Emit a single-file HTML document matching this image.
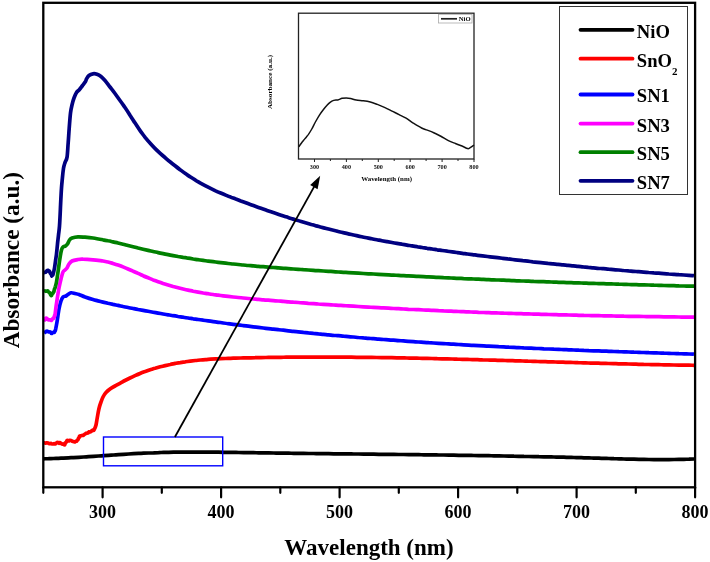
<!DOCTYPE html>
<html><head><meta charset="utf-8"><style>
html,body{margin:0;padding:0;background:#fff;width:710px;height:562px;overflow:hidden}
svg{display:block;will-change:transform}
</style></head><body>
<svg width="710" height="562" viewBox="0 0 710 562">
<rect width="710" height="562" fill="#fff"/>
<path d="M43.5,458.8 C44.3,458.8 46.8,458.7 48.5,458.7 C50.2,458.6 51.8,458.6 53.5,458.5 C55.2,458.4 56.8,458.4 58.5,458.3 C60.2,458.2 61.8,458.2 63.5,458.1 C65.2,458.0 66.9,457.9 68.5,457.8 C70.2,457.7 71.9,457.7 73.5,457.6 C75.2,457.5 76.9,457.4 78.5,457.3 C80.2,457.2 81.9,457.1 83.5,457.0 C85.2,456.9 86.9,456.8 88.5,456.6 C90.2,456.5 91.9,456.4 93.5,456.3 C95.2,456.2 96.9,456.1 98.5,456.0 C100.2,455.9 101.9,455.8 103.5,455.6 C105.2,455.5 106.9,455.4 108.5,455.3 C110.2,455.2 111.9,455.1 113.6,455.0 C115.2,454.9 116.9,454.7 118.6,454.6 C120.2,454.5 121.9,454.4 123.6,454.3 C125.2,454.2 126.9,454.1 128.6,454.0 C130.2,453.9 131.9,453.8 133.6,453.7 C135.2,453.6 136.9,453.5 138.6,453.4 C140.2,453.3 141.9,453.3 143.6,453.2 C145.2,453.1 146.9,453.0 148.6,453.0 C150.2,452.9 151.9,452.8 153.6,452.8 C155.3,452.7 156.9,452.6 158.6,452.6 C160.3,452.5 161.9,452.5 163.6,452.4 C165.3,452.4 166.9,452.4 168.6,452.3 C170.3,452.3 171.9,452.3 173.6,452.2 C175.3,452.2 176.9,452.2 178.6,452.2 C180.3,452.1 181.9,452.1 183.6,452.1 C185.3,452.1 186.9,452.1 188.6,452.1 C190.3,452.1 191.9,452.1 193.6,452.1 C195.3,452.1 197.0,452.1 198.6,452.1 C200.3,452.1 202.0,452.1 203.6,452.1 C205.3,452.1 207.0,452.1 208.6,452.1 C210.3,452.1 212.0,452.1 213.6,452.2 C215.3,452.2 217.0,452.2 218.6,452.2 C220.3,452.2 222.0,452.2 223.6,452.3 C225.3,452.3 227.0,452.3 228.6,452.3 C230.3,452.4 232.0,452.4 233.6,452.4 C235.3,452.4 237.0,452.5 238.7,452.5 C240.3,452.5 242.0,452.5 243.7,452.6 C245.3,452.6 247.0,452.6 248.7,452.6 C250.3,452.7 252.0,452.7 253.7,452.7 C255.3,452.7 257.0,452.8 258.7,452.8 C260.3,452.8 262.0,452.8 263.7,452.9 C265.3,452.9 267.0,452.9 268.7,452.9 C270.3,453.0 272.0,453.0 273.7,453.0 C275.3,453.0 277.0,453.1 278.7,453.1 C280.3,453.1 282.0,453.1 283.7,453.1 C285.4,453.2 287.0,453.2 288.7,453.2 C290.4,453.2 292.0,453.3 293.7,453.3 C295.4,453.3 297.0,453.3 298.7,453.3 C300.4,453.4 302.0,453.4 303.7,453.4 C305.4,453.4 307.0,453.4 308.7,453.5 C310.4,453.5 312.0,453.5 313.7,453.5 C315.4,453.5 317.0,453.6 318.7,453.6 C320.4,453.6 322.0,453.6 323.7,453.6 C325.4,453.7 327.1,453.7 328.7,453.7 C330.4,453.7 332.1,453.7 333.7,453.8 C335.4,453.8 337.1,453.8 338.7,453.8 C340.4,453.8 342.1,453.8 343.7,453.9 C345.4,453.9 347.1,453.9 348.7,453.9 C350.4,453.9 352.1,454.0 353.7,454.0 C355.4,454.0 357.1,454.0 358.7,454.0 C360.4,454.1 362.1,454.1 363.7,454.1 C365.4,454.1 367.1,454.1 368.8,454.1 C370.4,454.2 372.1,454.2 373.8,454.2 C375.4,454.2 377.1,454.2 378.8,454.3 C380.4,454.3 382.1,454.3 383.8,454.3 C385.4,454.3 387.1,454.4 388.8,454.4 C390.4,454.4 392.1,454.4 393.8,454.4 C395.4,454.5 397.1,454.5 398.8,454.5 C400.4,454.5 402.1,454.5 403.8,454.5 C405.4,454.6 407.1,454.6 408.8,454.6 C410.4,454.6 412.1,454.6 413.8,454.7 C415.5,454.7 417.1,454.7 418.8,454.7 C420.5,454.7 422.1,454.8 423.8,454.8 C425.5,454.8 427.1,454.8 428.8,454.9 C430.5,454.9 432.1,454.9 433.8,454.9 C435.5,454.9 437.1,455.0 438.8,455.0 C440.5,455.0 442.1,455.0 443.8,455.0 C445.5,455.1 447.1,455.1 448.8,455.1 C450.5,455.1 452.1,455.2 453.8,455.2 C455.5,455.2 457.2,455.2 458.8,455.3 C460.5,455.3 462.2,455.3 463.8,455.3 C465.5,455.4 467.2,455.4 468.8,455.4 C470.5,455.4 472.2,455.5 473.8,455.5 C475.5,455.5 477.2,455.5 478.8,455.6 C480.5,455.6 482.2,455.6 483.8,455.6 C485.5,455.7 487.2,455.7 488.8,455.7 C490.5,455.7 492.2,455.8 493.8,455.8 C495.5,455.8 497.2,455.9 498.9,455.9 C500.5,455.9 502.2,455.9 503.9,456.0 C505.5,456.0 507.2,456.0 508.9,456.1 C510.5,456.1 512.2,456.1 513.9,456.2 C515.5,456.2 517.2,456.2 518.9,456.3 C520.5,456.3 522.2,456.3 523.9,456.4 C525.5,456.4 527.2,456.4 528.9,456.5 C530.5,456.5 532.2,456.5 533.9,456.6 C535.5,456.6 537.2,456.6 538.9,456.7 C540.5,456.7 542.2,456.7 543.9,456.8 C545.6,456.8 547.2,456.8 548.9,456.9 C550.6,456.9 552.2,457.0 553.9,457.0 C555.6,457.0 557.2,457.1 558.9,457.1 C560.6,457.2 562.2,457.2 563.9,457.2 C565.6,457.3 567.2,457.3 568.9,457.4 C570.6,457.4 572.2,457.5 573.9,457.5 C575.6,457.5 577.2,457.6 578.9,457.6 C580.6,457.7 582.2,457.7 583.9,457.8 C585.6,457.8 587.3,457.9 588.9,457.9 C590.6,458.0 592.3,458.0 593.9,458.1 C595.6,458.1 597.3,458.2 598.9,458.2 C600.6,458.3 602.3,458.3 603.9,458.4 C605.6,458.4 607.3,458.5 608.9,458.5 C610.6,458.6 612.3,458.6 613.9,458.7 C615.6,458.7 617.3,458.8 618.9,458.8 C620.6,458.9 622.3,458.9 623.9,459.0 C625.6,459.0 627.3,459.1 629.0,459.1 C630.6,459.1 632.3,459.2 634.0,459.2 C635.6,459.3 637.3,459.3 639.0,459.3 C640.6,459.4 642.3,459.4 644.0,459.4 C645.6,459.5 647.3,459.5 649.0,459.5 C650.6,459.5 652.3,459.5 654.0,459.6 C655.6,459.6 657.3,459.6 659.0,459.6 C660.6,459.6 662.3,459.6 664.0,459.6 C665.6,459.6 667.3,459.6 669.0,459.6 C670.6,459.6 672.3,459.6 674.0,459.5 C675.7,459.5 677.3,459.5 679.0,459.4 C680.7,459.4 682.3,459.4 684.0,459.3 C685.7,459.3 687.3,459.2 689.0,459.2 C690.7,459.1 693.2,459.0 694.0,459.0" fill="none" stroke="#000" stroke-width="3.7" stroke-linejoin="round" stroke-linecap="butt"/>
<path d="M43.5,443.0 C43.6,443.0 44.1,442.8 44.4,442.8 C44.7,442.8 45.0,443.1 45.3,443.1 C45.6,443.1 45.9,443.0 46.2,442.9 C46.5,442.9 46.8,442.8 47.1,442.8 C47.4,442.8 47.7,442.9 48.0,443.0 C48.3,443.1 48.7,443.4 49.0,443.6 C49.3,443.7 49.7,443.7 50.0,443.6 C50.3,443.6 50.7,443.3 51.0,443.3 C51.3,443.3 51.7,443.8 52.0,443.9 C52.3,444.0 52.7,444.0 53.0,444.0 C53.3,444.0 53.7,443.8 54.0,443.7 C54.3,443.7 54.7,443.9 55.0,443.9 C55.3,443.8 55.7,443.6 56.0,443.4 C56.3,443.2 56.7,442.7 57.0,442.5 C57.3,442.4 57.7,442.4 58.0,442.5 C58.3,442.6 58.7,443.4 59.0,443.4 C59.3,443.4 59.7,442.7 60.0,442.6 C60.3,442.6 60.7,443.1 61.0,443.3 C61.3,443.5 61.7,443.9 62.0,444.0 C62.3,444.1 62.7,444.0 63.0,444.0 C63.3,444.0 63.5,443.9 63.8,444.1 C64.0,444.2 64.3,445.0 64.5,445.0 C64.7,445.0 64.8,444.5 65.0,444.1 C65.2,443.7 65.3,442.9 65.5,442.6 C65.7,442.4 65.8,442.7 66.0,442.5 C66.2,442.3 66.3,442.1 66.5,441.7 C66.7,441.4 66.8,440.7 67.0,440.5 C67.2,440.3 67.7,440.5 68.0,440.6 C68.3,440.7 68.7,441.0 69.0,441.0 C69.3,440.9 69.7,440.4 70.0,440.3 C70.3,440.2 70.7,440.4 71.0,440.5 C71.3,440.6 71.7,441.0 72.0,441.1 C72.3,441.3 72.7,441.3 73.0,441.4 C73.3,441.5 73.7,441.6 74.0,441.7 C74.3,441.8 74.7,442.1 75.0,442.0 C75.3,441.9 75.6,441.4 75.8,441.3 C76.1,441.1 76.4,441.3 76.7,441.1 C76.9,440.9 77.3,440.2 77.5,440.0 C77.7,439.8 77.8,440.0 78.0,439.7 C78.2,439.5 78.3,438.7 78.5,438.4 C78.7,438.0 78.8,438.1 79.0,437.8 C79.2,437.4 79.3,436.6 79.5,436.3 C79.7,436.0 79.8,436.1 80.0,436.0 C80.2,435.9 80.7,435.9 81.0,435.8 C81.3,435.7 81.7,435.5 82.0,435.4 C82.3,435.3 82.7,435.5 83.0,435.4 C83.3,435.3 83.7,435.0 84.0,434.8 C84.3,434.6 84.7,434.2 85.0,434.0 C85.3,433.8 85.7,433.5 86.0,433.3 C86.3,433.2 86.7,433.1 87.0,433.1 C87.3,433.0 87.7,433.2 88.0,433.0 C88.3,432.8 88.7,432.0 89.0,431.8 C89.3,431.7 89.7,432.1 90.0,432.0 C90.3,431.9 90.7,431.7 91.0,431.5 C91.3,431.2 91.7,430.8 92.0,430.6 C92.3,430.4 92.7,430.1 93.0,430.0 C93.3,429.9 93.5,430.8 94.0,430.0 C94.5,429.2 95.5,427.1 96.0,425.0 C96.5,422.9 96.8,420.2 97.3,417.5 C97.8,414.8 98.4,411.1 99.0,408.5 C99.6,405.9 100.3,403.9 101.0,402.0 C101.7,400.1 102.2,398.6 103.0,397.0 C103.8,395.4 104.8,393.8 106.0,392.5 C107.2,391.2 108.5,390.1 110.0,389.0 C111.5,387.9 113.3,386.9 115.0,386.0 C116.7,385.1 118.3,384.2 120.0,383.3 C121.7,382.4 123.3,381.4 125.0,380.5 C126.7,379.6 128.3,378.8 130.0,378.0 C131.7,377.2 133.3,376.4 135.0,375.6 C136.7,374.9 138.4,374.2 140.0,373.5 C141.7,372.8 143.4,372.2 145.1,371.6 C146.8,370.9 148.4,370.4 150.1,369.8 C151.8,369.3 153.5,368.7 155.1,368.3 C156.8,367.8 158.5,367.3 160.2,366.8 C161.9,366.4 163.5,366.0 165.2,365.6 C166.9,365.2 168.6,364.8 170.3,364.5 C171.9,364.1 173.6,363.8 175.3,363.4 C177.0,363.1 178.6,362.8 180.3,362.6 C182.0,362.3 183.7,362.0 185.4,361.8 C187.0,361.5 188.7,361.3 190.4,361.1 C192.1,360.9 193.8,360.7 195.4,360.5 C197.1,360.3 198.8,360.2 200.5,360.0 C202.1,359.9 203.8,359.7 205.5,359.6 C207.2,359.5 208.9,359.3 210.5,359.2 C212.2,359.1 213.9,359.0 215.6,358.9 C217.3,358.8 218.9,358.8 220.6,358.7 C222.3,358.6 224.0,358.5 225.6,358.5 C227.3,358.4 229.0,358.4 230.7,358.3 C232.4,358.2 234.0,358.2 235.7,358.1 C237.4,358.1 239.1,358.1 240.8,358.0 C242.4,358.0 244.1,357.9 245.8,357.9 C247.5,357.9 249.2,357.8 250.8,357.8 C252.5,357.7 254.2,357.7 255.9,357.7 C257.5,357.6 259.2,357.6 260.9,357.6 C262.6,357.5 264.3,357.5 265.9,357.5 C267.6,357.5 269.3,357.4 271.0,357.4 C272.7,357.4 274.3,357.4 276.0,357.3 C277.7,357.3 279.4,357.3 281.0,357.3 C282.7,357.3 284.4,357.2 286.1,357.2 C287.8,357.2 289.4,357.2 291.1,357.2 C292.8,357.2 294.5,357.2 296.2,357.1 C297.8,357.1 299.5,357.1 301.2,357.1 C302.9,357.1 304.5,357.1 306.2,357.1 C307.9,357.1 309.6,357.1 311.3,357.1 C312.9,357.1 314.6,357.1 316.3,357.1 C318.0,357.1 319.7,357.1 321.3,357.1 C323.0,357.1 324.7,357.1 326.4,357.1 C328.0,357.1 329.7,357.1 331.4,357.1 C333.1,357.1 334.8,357.1 336.4,357.1 C338.1,357.1 339.8,357.1 341.5,357.1 C343.2,357.2 344.8,357.2 346.5,357.2 C348.2,357.2 349.9,357.2 351.5,357.2 C353.2,357.2 354.9,357.2 356.6,357.3 C358.3,357.3 359.9,357.3 361.6,357.3 C363.3,357.3 365.0,357.4 366.7,357.4 C368.3,357.4 370.0,357.4 371.7,357.4 C373.4,357.5 375.1,357.5 376.7,357.5 C378.4,357.5 380.1,357.5 381.8,357.6 C383.4,357.6 385.1,357.6 386.8,357.7 C388.5,357.7 390.2,357.7 391.8,357.7 C393.5,357.8 395.2,357.8 396.9,357.8 C398.6,357.8 400.2,357.9 401.9,357.9 C403.6,357.9 405.3,358.0 406.9,358.0 C408.6,358.0 410.3,358.1 412.0,358.1 C413.7,358.1 415.3,358.2 417.0,358.2 C418.7,358.2 420.4,358.3 422.1,358.3 C423.7,358.4 425.4,358.4 427.1,358.4 C428.8,358.5 430.4,358.5 432.1,358.5 C433.8,358.6 435.5,358.6 437.2,358.7 C438.8,358.7 440.5,358.7 442.2,358.8 C443.9,358.8 445.6,358.9 447.2,358.9 C448.9,359.0 450.6,359.0 452.3,359.0 C453.9,359.1 455.6,359.1 457.3,359.2 C459.0,359.2 460.7,359.3 462.3,359.3 C464.0,359.3 465.7,359.4 467.4,359.4 C469.1,359.5 470.7,359.5 472.4,359.6 C474.1,359.6 475.8,359.7 477.5,359.7 C479.1,359.8 480.8,359.8 482.5,359.9 C484.2,359.9 485.8,359.9 487.5,360.0 C489.2,360.0 490.9,360.1 492.6,360.1 C494.2,360.2 495.9,360.2 497.6,360.3 C499.3,360.3 501.0,360.4 502.6,360.4 C504.3,360.5 506.0,360.5 507.7,360.6 C509.3,360.6 511.0,360.7 512.7,360.7 C514.4,360.8 516.1,360.8 517.7,360.9 C519.4,360.9 521.1,361.0 522.8,361.0 C524.5,361.1 526.1,361.1 527.8,361.2 C529.5,361.2 531.2,361.3 532.8,361.3 C534.5,361.4 536.2,361.4 537.9,361.5 C539.6,361.5 541.2,361.6 542.9,361.6 C544.6,361.7 546.3,361.7 548.0,361.8 C549.6,361.8 551.3,361.9 553.0,361.9 C554.7,362.0 556.3,362.0 558.0,362.1 C559.7,362.1 561.4,362.2 563.1,362.2 C564.7,362.3 566.4,362.3 568.1,362.4 C569.8,362.4 571.5,362.5 573.1,362.5 C574.8,362.6 576.5,362.6 578.2,362.7 C579.8,362.7 581.5,362.8 583.2,362.8 C584.9,362.9 586.6,362.9 588.2,363.0 C589.9,363.0 591.6,363.1 593.3,363.1 C595.0,363.1 596.6,363.2 598.3,363.2 C600.0,363.3 601.7,363.3 603.4,363.4 C605.0,363.4 606.7,363.5 608.4,363.5 C610.1,363.6 611.7,363.6 613.4,363.6 C615.1,363.7 616.8,363.7 618.5,363.8 C620.1,363.8 621.8,363.9 623.5,363.9 C625.2,363.9 626.9,364.0 628.5,364.0 C630.2,364.1 631.9,364.1 633.6,364.1 C635.2,364.2 636.9,364.2 638.6,364.3 C640.3,364.3 642.0,364.3 643.6,364.4 C645.3,364.4 647.0,364.4 648.7,364.5 C650.4,364.5 652.0,364.6 653.7,364.6 C655.4,364.6 657.1,364.7 658.7,364.7 C660.4,364.7 662.1,364.8 663.8,364.8 C665.5,364.8 667.1,364.9 668.8,364.9 C670.5,364.9 672.2,364.9 673.9,365.0 C675.5,365.0 677.2,365.0 678.9,365.1 C680.6,365.1 682.2,365.1 683.9,365.1 C685.6,365.2 687.3,365.2 689.0,365.2 C690.6,365.2 693.2,365.3 694.0,365.3" fill="none" stroke="#f00" stroke-width="3.7" stroke-linejoin="round" stroke-linecap="butt"/>
<path d="M43.8,333.0 C43.9,332.9 44.3,332.8 44.6,332.6 C44.9,332.5 45.1,332.4 45.4,332.2 C45.7,332.0 45.9,331.5 46.2,331.3 C46.5,331.1 46.7,331.0 47.0,331.0 C47.3,331.0 47.7,331.4 48.0,331.6 C48.3,331.7 48.7,332.0 49.0,332.0 C49.3,332.0 49.6,331.8 49.8,331.8 C50.1,331.8 50.4,332.0 50.7,332.3 C50.9,332.6 51.2,333.5 51.5,333.5 C51.8,333.5 52.3,332.7 52.8,332.5 C53.2,332.4 53.7,332.6 54.0,332.5 C54.3,332.4 54.3,332.3 54.5,332.0 C54.7,331.7 54.8,331.0 55.0,330.7 C55.2,330.4 55.2,331.5 55.5,330.0 C55.8,328.5 56.4,325.5 57.0,322.0 C57.6,318.5 58.3,312.5 59.0,309.0 C59.7,305.5 60.3,303.0 61.0,301.0 C61.7,299.0 62.2,297.8 63.0,297.0 C63.8,296.2 65.2,296.4 66.0,296.0 C66.8,295.6 67.2,295.0 68.0,294.5 C68.8,294.0 69.8,293.0 71.0,292.8 C72.2,292.6 73.7,293.2 75.0,293.5 C76.3,293.8 77.3,293.9 79.0,294.5 C80.7,295.1 82.7,296.2 85.0,297.0 C87.3,297.8 90.8,298.9 93.0,299.5 C95.2,300.2 96.3,300.4 98.0,300.9 C99.7,301.3 101.3,301.7 103.0,302.1 C104.7,302.5 106.4,302.9 108.0,303.3 C109.7,303.6 111.4,304.0 113.0,304.4 C114.7,304.7 116.4,305.1 118.0,305.4 C119.7,305.8 121.4,306.1 123.1,306.5 C124.7,306.8 126.4,307.2 128.1,307.5 C129.7,307.8 131.4,308.2 133.1,308.5 C134.7,308.8 136.4,309.1 138.1,309.5 C139.7,309.8 141.4,310.1 143.1,310.4 C144.8,310.7 146.4,311.0 148.1,311.3 C149.8,311.6 151.4,311.9 153.1,312.2 C154.8,312.5 156.4,312.8 158.1,313.1 C159.8,313.4 161.4,313.7 163.1,314.0 C164.8,314.3 166.5,314.6 168.1,314.8 C169.8,315.1 171.5,315.4 173.1,315.7 C174.8,315.9 176.5,316.2 178.1,316.5 C179.8,316.7 181.5,317.0 183.2,317.2 C184.8,317.5 186.5,317.8 188.2,318.0 C189.8,318.3 191.5,318.5 193.2,318.8 C194.8,319.0 196.5,319.3 198.2,319.5 C199.8,319.8 201.5,320.0 203.2,320.2 C204.9,320.5 206.5,320.7 208.2,320.9 C209.9,321.2 211.5,321.4 213.2,321.6 C214.9,321.9 216.5,322.1 218.2,322.3 C219.9,322.6 221.5,322.8 223.2,323.0 C224.9,323.2 226.6,323.4 228.2,323.7 C229.9,323.9 231.6,324.1 233.2,324.3 C234.9,324.5 236.6,324.7 238.2,324.9 C239.9,325.2 241.6,325.4 243.2,325.6 C244.9,325.8 246.6,326.0 248.3,326.2 C249.9,326.4 251.6,326.6 253.3,326.8 C254.9,327.0 256.6,327.2 258.3,327.4 C259.9,327.6 261.6,327.8 263.3,328.0 C265.0,328.2 266.6,328.4 268.3,328.6 C270.0,328.8 271.6,328.9 273.3,329.1 C275.0,329.3 276.6,329.5 278.3,329.7 C280.0,329.9 281.6,330.1 283.3,330.2 C285.0,330.4 286.7,330.6 288.3,330.8 C290.0,331.0 291.7,331.1 293.3,331.3 C295.0,331.5 296.7,331.7 298.3,331.8 C300.0,332.0 301.7,332.2 303.4,332.4 C305.0,332.5 306.7,332.7 308.4,332.9 C310.0,333.0 311.7,333.2 313.4,333.4 C315.0,333.5 316.7,333.7 318.4,333.9 C320.0,334.0 321.7,334.2 323.4,334.3 C325.1,334.5 326.7,334.6 328.4,334.8 C330.1,335.0 331.7,335.1 333.4,335.3 C335.1,335.4 336.7,335.6 338.4,335.7 C340.1,335.9 341.7,336.0 343.4,336.2 C345.1,336.3 346.8,336.5 348.4,336.6 C350.1,336.8 351.8,336.9 353.4,337.0 C355.1,337.2 356.8,337.3 358.4,337.5 C360.1,337.6 361.8,337.7 363.5,337.9 C365.1,338.0 366.8,338.2 368.5,338.3 C370.1,338.4 371.8,338.6 373.5,338.7 C375.1,338.8 376.8,339.0 378.5,339.1 C380.1,339.2 381.8,339.3 383.5,339.5 C385.2,339.6 386.8,339.7 388.5,339.8 C390.2,340.0 391.8,340.1 393.5,340.2 C395.2,340.3 396.8,340.5 398.5,340.6 C400.2,340.7 401.8,340.8 403.5,340.9 C405.2,341.1 406.9,341.2 408.5,341.3 C410.2,341.4 411.9,341.5 413.5,341.6 C415.2,341.8 416.9,341.9 418.5,342.0 C420.2,342.1 421.9,342.2 423.6,342.3 C425.2,342.4 426.9,342.5 428.6,342.7 C430.2,342.8 431.9,342.9 433.6,343.0 C435.2,343.1 436.9,343.2 438.6,343.3 C440.2,343.4 441.9,343.5 443.6,343.6 C445.3,343.7 446.9,343.8 448.6,343.9 C450.3,344.0 451.9,344.1 453.6,344.2 C455.3,344.3 456.9,344.4 458.6,344.5 C460.3,344.6 461.9,344.7 463.6,344.8 C465.3,344.9 467.0,345.0 468.6,345.1 C470.3,345.2 472.0,345.3 473.6,345.3 C475.3,345.4 477.0,345.5 478.6,345.6 C480.3,345.7 482.0,345.8 483.7,345.9 C485.3,346.0 487.0,346.1 488.7,346.1 C490.3,346.2 492.0,346.3 493.7,346.4 C495.3,346.5 497.0,346.6 498.7,346.7 C500.3,346.7 502.0,346.8 503.7,346.9 C505.4,347.0 507.0,347.1 508.7,347.2 C510.4,347.2 512.0,347.3 513.7,347.4 C515.4,347.5 517.0,347.6 518.7,347.6 C520.4,347.7 522.0,347.8 523.7,347.9 C525.4,347.9 527.1,348.0 528.7,348.1 C530.4,348.2 532.1,348.2 533.7,348.3 C535.4,348.4 537.1,348.5 538.7,348.5 C540.4,348.6 542.1,348.7 543.8,348.8 C545.4,348.8 547.1,348.9 548.8,349.0 C550.4,349.0 552.1,349.1 553.8,349.2 C555.4,349.2 557.1,349.3 558.8,349.4 C560.4,349.5 562.1,349.5 563.8,349.6 C565.5,349.7 567.1,349.7 568.8,349.8 C570.5,349.9 572.1,349.9 573.8,350.0 C575.5,350.1 577.1,350.1 578.8,350.2 C580.5,350.2 582.1,350.3 583.8,350.4 C585.5,350.4 587.2,350.5 588.8,350.6 C590.5,350.6 592.2,350.7 593.8,350.8 C595.5,350.8 597.2,350.9 598.8,350.9 C600.5,351.0 602.2,351.1 603.9,351.1 C605.5,351.2 607.2,351.2 608.9,351.3 C610.5,351.4 612.2,351.4 613.9,351.5 C615.5,351.5 617.2,351.6 618.9,351.7 C620.5,351.7 622.2,351.8 623.9,351.8 C625.6,351.9 627.2,351.9 628.9,352.0 C630.6,352.1 632.2,352.1 633.9,352.2 C635.6,352.2 637.2,352.3 638.9,352.3 C640.6,352.4 642.2,352.5 643.9,352.5 C645.6,352.6 647.3,352.6 648.9,352.7 C650.6,352.7 652.3,352.8 653.9,352.9 C655.6,352.9 657.3,353.0 658.9,353.0 C660.6,353.1 662.3,353.1 664.0,353.2 C665.6,353.2 667.3,353.3 669.0,353.3 C670.6,353.4 672.3,353.5 674.0,353.5 C675.6,353.6 677.3,353.6 679.0,353.7 C680.6,353.7 682.3,353.8 684.0,353.8 C685.7,353.9 687.3,353.9 689.0,354.0 C690.7,354.0 693.2,354.1 694.0,354.2" fill="none" stroke="#00f" stroke-width="3.7" stroke-linejoin="round" stroke-linecap="butt"/>
<path d="M43.8,319.5 C44.0,319.6 44.5,320.2 44.9,319.9 C45.2,319.7 45.6,318.3 45.9,318.1 C46.3,317.9 46.7,318.2 47.0,318.5 C47.3,318.8 47.7,319.6 48.0,319.8 C48.3,320.1 48.6,320.0 49.0,320.0 C49.4,320.0 49.8,319.8 50.2,319.9 C50.7,320.0 51.2,320.6 51.5,320.5 C51.8,320.4 51.9,319.6 52.2,319.3 C52.4,318.9 52.6,318.7 52.8,318.6 C53.1,318.4 53.3,318.7 53.5,318.5 C53.7,318.3 53.8,317.5 53.9,317.3 C54.0,317.1 54.1,317.6 54.2,317.3 C54.4,316.9 54.5,315.7 54.6,315.4 C54.8,315.0 54.8,316.4 55.0,315.0 C55.2,313.6 55.6,310.0 56.0,307.0 C56.4,304.0 57.0,300.2 57.5,297.0 C58.0,293.8 58.4,291.0 59.0,288.0 C59.6,285.0 60.3,281.7 61.0,279.0 C61.7,276.3 62.3,273.5 63.0,272.0 C63.7,270.5 64.3,270.7 65.0,270.0 C65.7,269.3 66.3,269.0 67.0,268.0 C67.7,267.0 68.2,265.2 69.0,264.0 C69.8,262.8 70.5,261.8 72.0,261.0 C73.5,260.2 76.2,259.8 78.0,259.5 C79.8,259.2 80.5,259.1 83.0,259.2 C85.5,259.2 89.7,259.5 93.0,259.8 C96.3,260.1 100.5,260.7 103.0,261.0 C105.5,261.4 106.3,261.6 108.0,262.0 C109.7,262.4 111.3,262.9 113.0,263.4 C114.7,263.9 116.4,264.4 118.0,265.0 C119.7,265.6 121.4,266.2 123.0,266.9 C124.7,267.6 126.4,268.3 128.0,269.0 C129.7,269.7 131.4,270.4 133.1,271.2 C134.7,271.9 136.4,272.7 138.1,273.4 C139.7,274.2 141.4,274.9 143.1,275.7 C144.7,276.4 146.4,277.1 148.1,277.8 C149.7,278.5 151.4,279.2 153.1,279.9 C154.8,280.5 156.4,281.1 158.1,281.7 C159.8,282.3 161.4,282.9 163.1,283.5 C164.8,284.0 166.4,284.5 168.1,285.0 C169.8,285.5 171.4,286.0 173.1,286.5 C174.8,286.9 176.5,287.4 178.1,287.8 C179.8,288.2 181.5,288.6 183.1,289.0 C184.8,289.4 186.5,289.8 188.1,290.1 C189.8,290.5 191.5,290.8 193.2,291.2 C194.8,291.5 196.5,291.8 198.2,292.1 C199.8,292.4 201.5,292.7 203.2,293.0 C204.8,293.2 206.5,293.5 208.2,293.7 C209.8,294.0 211.5,294.3 213.2,294.5 C214.9,294.7 216.5,295.0 218.2,295.2 C219.9,295.4 221.5,295.6 223.2,295.8 C224.9,296.0 226.5,296.2 228.2,296.4 C229.9,296.6 231.6,296.8 233.2,297.0 C234.9,297.2 236.6,297.4 238.2,297.5 C239.9,297.7 241.6,297.9 243.2,298.0 C244.9,298.2 246.6,298.4 248.2,298.5 C249.9,298.7 251.6,298.8 253.3,299.0 C254.9,299.1 256.6,299.3 258.3,299.4 C259.9,299.5 261.6,299.7 263.3,299.8 C264.9,300.0 266.6,300.1 268.3,300.2 C269.9,300.4 271.6,300.5 273.3,300.6 C275.0,300.8 276.6,300.9 278.3,301.0 C280.0,301.1 281.6,301.3 283.3,301.4 C285.0,301.5 286.6,301.7 288.3,301.8 C290.0,301.9 291.7,302.0 293.3,302.2 C295.0,302.3 296.7,302.4 298.3,302.5 C300.0,302.7 301.7,302.8 303.3,302.9 C305.0,303.0 306.7,303.1 308.3,303.3 C310.0,303.4 311.7,303.5 313.4,303.6 C315.0,303.7 316.7,303.8 318.4,304.0 C320.0,304.1 321.7,304.2 323.4,304.3 C325.0,304.4 326.7,304.5 328.4,304.6 C330.1,304.7 331.7,304.8 333.4,305.0 C335.1,305.1 336.7,305.2 338.4,305.3 C340.1,305.4 341.7,305.5 343.4,305.6 C345.1,305.7 346.7,305.8 348.4,305.9 C350.1,306.0 351.8,306.1 353.4,306.2 C355.1,306.3 356.8,306.4 358.4,306.5 C360.1,306.6 361.8,306.7 363.4,306.8 C365.1,306.9 366.8,307.0 368.4,307.1 C370.1,307.2 371.8,307.3 373.5,307.4 C375.1,307.5 376.8,307.6 378.5,307.7 C380.1,307.8 381.8,307.9 383.5,307.9 C385.1,308.0 386.8,308.1 388.5,308.2 C390.2,308.3 391.8,308.4 393.5,308.5 C395.2,308.6 396.8,308.7 398.5,308.7 C400.2,308.8 401.8,308.9 403.5,309.0 C405.2,309.1 406.8,309.2 408.5,309.3 C410.2,309.3 411.9,309.4 413.5,309.5 C415.2,309.6 416.9,309.7 418.5,309.7 C420.2,309.8 421.9,309.9 423.5,310.0 C425.2,310.1 426.9,310.1 428.6,310.2 C430.2,310.3 431.9,310.4 433.6,310.4 C435.2,310.5 436.9,310.6 438.6,310.7 C440.2,310.7 441.9,310.8 443.6,310.9 C445.2,310.9 446.9,311.0 448.6,311.1 C450.3,311.2 451.9,311.2 453.6,311.3 C455.3,311.4 456.9,311.4 458.6,311.5 C460.3,311.6 461.9,311.6 463.6,311.7 C465.3,311.8 466.9,311.8 468.6,311.9 C470.3,312.0 472.0,312.0 473.6,312.1 C475.3,312.2 477.0,312.2 478.6,312.3 C480.3,312.3 482.0,312.4 483.6,312.5 C485.3,312.5 487.0,312.6 488.7,312.6 C490.3,312.7 492.0,312.8 493.7,312.8 C495.3,312.9 497.0,312.9 498.7,313.0 C500.3,313.1 502.0,313.1 503.7,313.2 C505.3,313.2 507.0,313.3 508.7,313.3 C510.4,313.4 512.0,313.4 513.7,313.5 C515.4,313.5 517.0,313.6 518.7,313.6 C520.4,313.7 522.0,313.7 523.7,313.8 C525.4,313.8 527.1,313.9 528.7,313.9 C530.4,314.0 532.1,314.0 533.7,314.1 C535.4,314.1 537.1,314.2 538.7,314.2 C540.4,314.3 542.1,314.3 543.7,314.4 C545.4,314.4 547.1,314.5 548.8,314.5 C550.4,314.6 552.1,314.6 553.8,314.6 C555.4,314.7 557.1,314.7 558.8,314.8 C560.4,314.8 562.1,314.9 563.8,314.9 C565.4,314.9 567.1,315.0 568.8,315.0 C570.5,315.1 572.1,315.1 573.8,315.1 C575.5,315.2 577.1,315.2 578.8,315.3 C580.5,315.3 582.1,315.3 583.8,315.4 C585.5,315.4 587.2,315.4 588.8,315.5 C590.5,315.5 592.2,315.6 593.8,315.6 C595.5,315.6 597.2,315.7 598.8,315.7 C600.5,315.7 602.2,315.8 603.8,315.8 C605.5,315.8 607.2,315.9 608.9,315.9 C610.5,315.9 612.2,316.0 613.9,316.0 C615.5,316.0 617.2,316.1 618.9,316.1 C620.5,316.1 622.2,316.1 623.9,316.2 C625.6,316.2 627.2,316.2 628.9,316.3 C630.6,316.3 632.2,316.3 633.9,316.3 C635.6,316.4 637.2,316.4 638.9,316.4 C640.6,316.5 642.2,316.5 643.9,316.5 C645.6,316.5 647.3,316.6 648.9,316.6 C650.6,316.6 652.3,316.6 653.9,316.7 C655.6,316.7 657.3,316.7 658.9,316.7 C660.6,316.8 662.3,316.8 663.9,316.8 C665.6,316.8 667.3,316.9 669.0,316.9 C670.6,316.9 672.3,316.9 674.0,316.9 C675.6,317.0 677.3,317.0 679.0,317.0 C680.6,317.0 682.3,317.1 684.0,317.1 C685.7,317.1 687.3,317.1 689.0,317.1 C690.7,317.2 693.2,317.2 694.0,317.2" fill="none" stroke="#f0f" stroke-width="3.7" stroke-linejoin="round" stroke-linecap="butt"/>
<path d="M43.8,292.0 C44.0,291.8 44.5,291.1 44.9,290.9 C45.2,290.8 45.6,291.2 45.9,291.2 C46.3,291.2 46.7,291.0 47.0,291.0 C47.3,291.0 47.7,290.8 48.0,291.1 C48.3,291.3 48.7,292.2 49.0,292.5 C49.3,292.8 49.4,292.4 49.6,292.6 C49.8,292.8 50.0,293.4 50.2,293.9 C50.5,294.3 50.7,295.0 50.9,295.3 C51.1,295.5 51.3,295.7 51.5,295.5 C51.7,295.3 51.8,294.4 52.0,294.0 C52.2,293.7 52.3,293.5 52.5,293.3 C52.7,293.1 52.8,293.3 53.0,293.1 C53.2,292.9 53.4,292.2 53.5,292.0 C53.6,291.8 53.8,292.0 53.9,291.7 C54.0,291.4 54.1,290.6 54.2,290.1 C54.4,289.6 54.5,289.2 54.6,288.8 C54.8,288.5 54.7,289.1 55.0,288.0 C55.3,286.9 56.0,284.7 56.5,282.0 C57.0,279.3 57.4,276.0 58.0,272.0 C58.6,268.0 59.4,261.7 60.0,258.0 C60.6,254.3 61.0,251.8 61.5,250.0 C62.0,248.2 62.3,247.7 63.0,247.0 C63.7,246.3 64.8,246.5 65.5,246.0 C66.2,245.5 66.8,245.0 67.5,244.0 C68.2,243.0 68.8,241.0 69.5,240.0 C70.2,239.0 70.6,238.5 72.0,238.0 C73.4,237.5 75.8,236.9 78.0,236.8 C80.2,236.7 82.5,237.0 85.0,237.2 C87.5,237.4 90.0,237.6 93.0,238.0 C96.0,238.4 100.5,239.3 103.0,239.8 C105.5,240.2 106.3,240.4 108.0,240.8 C109.7,241.1 111.3,241.5 113.0,241.9 C114.7,242.3 116.4,242.6 118.0,243.0 C119.7,243.4 121.4,243.8 123.0,244.2 C124.7,244.6 126.4,245.1 128.0,245.5 C129.7,245.9 131.4,246.3 133.1,246.7 C134.7,247.1 136.4,247.5 138.1,248.0 C139.7,248.4 141.4,248.8 143.1,249.2 C144.7,249.6 146.4,250.0 148.1,250.4 C149.7,250.8 151.4,251.1 153.1,251.5 C154.8,251.9 156.4,252.2 158.1,252.6 C159.8,253.0 161.4,253.3 163.1,253.6 C164.8,254.0 166.4,254.3 168.1,254.6 C169.8,255.0 171.4,255.3 173.1,255.6 C174.8,255.9 176.5,256.2 178.1,256.5 C179.8,256.8 181.5,257.1 183.1,257.4 C184.8,257.6 186.5,257.9 188.1,258.2 C189.8,258.4 191.5,258.7 193.2,259.0 C194.8,259.2 196.5,259.5 198.2,259.7 C199.8,260.0 201.5,260.2 203.2,260.4 C204.8,260.6 206.5,260.9 208.2,261.1 C209.8,261.3 211.5,261.5 213.2,261.7 C214.9,261.9 216.5,262.1 218.2,262.3 C219.9,262.5 221.5,262.7 223.2,262.9 C224.9,263.1 226.5,263.3 228.2,263.5 C229.9,263.7 231.6,263.8 233.2,264.0 C234.9,264.2 236.6,264.4 238.2,264.5 C239.9,264.7 241.6,264.8 243.2,265.0 C244.9,265.2 246.6,265.3 248.2,265.5 C249.9,265.6 251.6,265.8 253.3,265.9 C254.9,266.0 256.6,266.2 258.3,266.3 C259.9,266.5 261.6,266.6 263.3,266.7 C264.9,266.9 266.6,267.0 268.3,267.1 C269.9,267.3 271.6,267.4 273.3,267.5 C275.0,267.6 276.6,267.8 278.3,267.9 C280.0,268.0 281.6,268.1 283.3,268.3 C285.0,268.4 286.6,268.5 288.3,268.6 C290.0,268.7 291.7,268.9 293.3,269.0 C295.0,269.1 296.7,269.2 298.3,269.3 C300.0,269.4 301.7,269.6 303.3,269.7 C305.0,269.8 306.7,269.9 308.3,270.0 C310.0,270.1 311.7,270.2 313.4,270.3 C315.0,270.5 316.7,270.6 318.4,270.7 C320.0,270.8 321.7,270.9 323.4,271.0 C325.0,271.1 326.7,271.2 328.4,271.3 C330.1,271.4 331.7,271.5 333.4,271.6 C335.1,271.8 336.7,271.9 338.4,272.0 C340.1,272.1 341.7,272.2 343.4,272.3 C345.1,272.4 346.7,272.5 348.4,272.6 C350.1,272.7 351.8,272.8 353.4,272.9 C355.1,273.0 356.8,273.1 358.4,273.2 C360.1,273.3 361.8,273.4 363.4,273.5 C365.1,273.6 366.8,273.7 368.4,273.8 C370.1,273.9 371.8,273.9 373.5,274.0 C375.1,274.1 376.8,274.2 378.5,274.3 C380.1,274.4 381.8,274.5 383.5,274.6 C385.1,274.7 386.8,274.8 388.5,274.9 C390.2,275.0 391.8,275.1 393.5,275.1 C395.2,275.2 396.8,275.3 398.5,275.4 C400.2,275.5 401.8,275.6 403.5,275.7 C405.2,275.8 406.8,275.9 408.5,275.9 C410.2,276.0 411.9,276.1 413.5,276.2 C415.2,276.3 416.9,276.4 418.5,276.4 C420.2,276.5 421.9,276.6 423.5,276.7 C425.2,276.8 426.9,276.9 428.6,276.9 C430.2,277.0 431.9,277.1 433.6,277.2 C435.2,277.3 436.9,277.3 438.6,277.4 C440.2,277.5 441.9,277.6 443.6,277.7 C445.2,277.7 446.9,277.8 448.6,277.9 C450.3,278.0 451.9,278.0 453.6,278.1 C455.3,278.2 456.9,278.3 458.6,278.3 C460.3,278.4 461.9,278.5 463.6,278.6 C465.3,278.6 466.9,278.7 468.6,278.8 C470.3,278.9 472.0,278.9 473.6,279.0 C475.3,279.1 477.0,279.1 478.6,279.2 C480.3,279.3 482.0,279.4 483.6,279.4 C485.3,279.5 487.0,279.6 488.7,279.6 C490.3,279.7 492.0,279.8 493.7,279.8 C495.3,279.9 497.0,280.0 498.7,280.0 C500.3,280.1 502.0,280.2 503.7,280.2 C505.3,280.3 507.0,280.4 508.7,280.4 C510.4,280.5 512.0,280.6 513.7,280.6 C515.4,280.7 517.0,280.8 518.7,280.8 C520.4,280.9 522.0,281.0 523.7,281.0 C525.4,281.1 527.1,281.1 528.7,281.2 C530.4,281.3 532.1,281.3 533.7,281.4 C535.4,281.4 537.1,281.5 538.7,281.6 C540.4,281.6 542.1,281.7 543.7,281.7 C545.4,281.8 547.1,281.9 548.8,281.9 C550.4,282.0 552.1,282.0 553.8,282.1 C555.4,282.2 557.1,282.2 558.8,282.3 C560.4,282.3 562.1,282.4 563.8,282.4 C565.4,282.5 567.1,282.6 568.8,282.6 C570.5,282.7 572.1,282.7 573.8,282.8 C575.5,282.8 577.1,282.9 578.8,282.9 C580.5,283.0 582.1,283.0 583.8,283.1 C585.5,283.2 587.2,283.2 588.8,283.3 C590.5,283.3 592.2,283.4 593.8,283.4 C595.5,283.5 597.2,283.5 598.8,283.6 C600.5,283.6 602.2,283.7 603.8,283.7 C605.5,283.8 607.2,283.8 608.9,283.9 C610.5,283.9 612.2,284.0 613.9,284.0 C615.5,284.1 617.2,284.1 618.9,284.2 C620.5,284.2 622.2,284.3 623.9,284.3 C625.6,284.4 627.2,284.4 628.9,284.5 C630.6,284.5 632.2,284.6 633.9,284.6 C635.6,284.7 637.2,284.7 638.9,284.8 C640.6,284.8 642.2,284.9 643.9,284.9 C645.6,285.0 647.3,285.0 648.9,285.0 C650.6,285.1 652.3,285.1 653.9,285.2 C655.6,285.2 657.3,285.3 658.9,285.3 C660.6,285.4 662.3,285.4 663.9,285.5 C665.6,285.5 667.3,285.5 669.0,285.6 C670.6,285.6 672.3,285.7 674.0,285.7 C675.6,285.8 677.3,285.8 679.0,285.9 C680.6,285.9 682.3,285.9 684.0,286.0 C685.7,286.0 687.3,286.1 689.0,286.1 C690.7,286.2 693.2,286.2 694.0,286.2" fill="none" stroke="#008000" stroke-width="3.7" stroke-linejoin="round" stroke-linecap="butt"/>
<path d="M43.8,273.0 C44.0,272.9 44.5,272.4 44.9,272.2 C45.3,272.1 45.6,272.3 46.0,272.0 C46.4,271.7 46.7,270.9 47.0,270.6 C47.3,270.3 47.7,270.2 48.0,270.3 C48.3,270.4 48.4,271.1 48.7,271.3 C48.9,271.4 49.1,270.9 49.3,271.1 C49.6,271.3 49.8,272.1 50.0,272.5 C50.2,272.9 50.3,273.2 50.4,273.4 C50.6,273.7 50.7,273.9 50.9,274.0 C51.0,274.2 51.1,274.1 51.3,274.4 C51.4,274.7 51.5,275.9 51.7,276.0 C51.9,276.1 52.1,275.5 52.4,275.3 C52.6,275.0 52.6,275.7 53.0,274.5 C53.4,273.3 54.1,270.2 54.5,268.0 C54.9,265.8 55.2,263.3 55.5,261.0 C55.8,258.7 56.2,256.8 56.5,254.0 C56.8,251.2 57.2,247.2 57.5,244.0 C57.8,240.8 58.2,238.0 58.5,235.0 C58.8,232.0 59.1,231.1 59.5,226.0 C59.9,220.9 60.3,210.7 60.6,204.4 C60.9,198.1 61.2,192.4 61.5,188.0 C61.8,183.6 62.1,181.3 62.4,178.0 C62.7,174.7 63.1,170.8 63.5,168.2 C63.9,165.6 64.4,164.5 65.0,162.6 C65.6,160.7 66.6,160.2 67.1,156.9 C67.6,153.6 67.8,147.4 68.2,142.7 C68.6,137.9 68.8,133.3 69.2,128.4 C69.6,123.5 70.0,116.9 70.5,113.0 C71.0,109.1 71.4,107.5 72.0,105.0 C72.6,102.5 73.2,100.1 74.0,98.0 C74.8,95.9 75.6,93.9 76.5,92.5 C77.4,91.1 78.5,90.7 79.5,89.5 C80.5,88.3 81.5,86.8 82.5,85.5 C83.5,84.2 84.8,82.6 85.5,81.5 C86.2,80.4 85.9,80.0 86.5,79.0 C87.1,78.0 87.9,76.4 89.0,75.5 C90.1,74.6 91.7,74.0 93.0,73.8 C94.3,73.6 95.7,73.8 97.0,74.2 C98.3,74.7 99.7,75.5 101.0,76.5 C102.3,77.5 103.5,78.8 105.0,80.5 C106.5,82.2 108.3,84.8 110.0,87.0 C111.7,89.2 113.3,91.2 115.0,93.5 C116.7,95.8 118.3,98.2 120.0,100.5 C121.7,102.8 123.3,105.1 125.0,107.5 C126.7,110.0 128.4,112.6 130.0,115.2 C131.7,117.7 133.4,120.5 135.1,123.1 C136.7,125.6 138.4,128.2 140.1,130.6 C141.8,133.0 143.5,135.2 145.1,137.4 C146.8,139.5 148.5,141.5 150.2,143.3 C151.9,145.2 153.5,147.0 155.2,148.6 C156.9,150.3 158.6,151.9 160.2,153.4 C161.9,155.0 163.6,156.4 165.3,157.8 C167.0,159.3 168.6,160.7 170.3,162.0 C172.0,163.4 173.7,164.7 175.4,166.0 C177.0,167.4 178.7,168.7 180.4,169.9 C182.1,171.2 183.7,172.4 185.4,173.6 C187.1,174.8 188.8,175.9 190.5,177.1 C192.1,178.2 193.8,179.2 195.5,180.2 C197.2,181.3 198.9,182.2 200.5,183.2 C202.2,184.1 203.9,185.0 205.6,185.9 C207.2,186.8 208.9,187.6 210.6,188.4 C212.3,189.2 214.0,190.0 215.6,190.8 C217.3,191.6 219.0,192.3 220.7,193.0 C222.4,193.7 224.0,194.4 225.7,195.1 C227.4,195.8 229.1,196.5 230.7,197.1 C232.4,197.8 234.1,198.4 235.8,199.1 C237.5,199.7 239.1,200.3 240.8,201.0 C242.5,201.6 244.2,202.2 245.8,202.8 C247.5,203.5 249.2,204.1 250.9,204.7 C252.6,205.3 254.2,205.9 255.9,206.5 C257.6,207.1 259.3,207.7 261.0,208.3 C262.6,208.9 264.3,209.5 266.0,210.1 C267.7,210.7 269.3,211.3 271.0,211.8 C272.7,212.4 274.4,213.0 276.1,213.5 C277.7,214.1 279.4,214.7 281.1,215.2 C282.8,215.8 284.5,216.3 286.1,216.8 C287.8,217.4 289.5,217.9 291.2,218.5 C292.8,219.0 294.5,219.5 296.2,220.0 C297.9,220.5 299.6,221.0 301.2,221.5 C302.9,222.0 304.6,222.5 306.3,223.0 C308.0,223.5 309.6,224.0 311.3,224.5 C313.0,224.9 314.7,225.4 316.3,225.9 C318.0,226.3 319.7,226.8 321.4,227.2 C323.1,227.7 324.7,228.1 326.4,228.5 C328.1,229.0 329.8,229.4 331.5,229.8 C333.1,230.2 334.8,230.6 336.5,231.0 C338.2,231.5 339.8,231.9 341.5,232.2 C343.2,232.6 344.9,233.0 346.6,233.4 C348.2,233.8 349.9,234.2 351.6,234.5 C353.3,234.9 354.9,235.3 356.6,235.6 C358.3,236.0 360.0,236.4 361.7,236.7 C363.3,237.1 365.0,237.4 366.7,237.7 C368.4,238.1 370.1,238.4 371.7,238.7 C373.4,239.1 375.1,239.4 376.8,239.7 C378.4,240.0 380.1,240.4 381.8,240.7 C383.5,241.0 385.2,241.3 386.8,241.6 C388.5,241.9 390.2,242.2 391.9,242.5 C393.6,242.8 395.2,243.1 396.9,243.4 C398.6,243.7 400.3,244.0 401.9,244.2 C403.6,244.5 405.3,244.8 407.0,245.1 C408.7,245.4 410.3,245.6 412.0,245.9 C413.7,246.2 415.4,246.5 417.1,246.7 C418.7,247.0 420.4,247.2 422.1,247.5 C423.8,247.8 425.4,248.0 427.1,248.3 C428.8,248.5 430.5,248.8 432.2,249.0 C433.8,249.3 435.5,249.5 437.2,249.8 C438.9,250.0 440.6,250.3 442.2,250.5 C443.9,250.8 445.6,251.0 447.3,251.2 C448.9,251.5 450.6,251.7 452.3,251.9 C454.0,252.2 455.7,252.4 457.3,252.6 C459.0,252.9 460.7,253.1 462.4,253.3 C464.1,253.5 465.7,253.8 467.4,254.0 C469.1,254.2 470.8,254.4 472.4,254.6 C474.1,254.8 475.8,255.1 477.5,255.3 C479.2,255.5 480.8,255.7 482.5,255.9 C484.2,256.1 485.9,256.3 487.5,256.5 C489.2,256.7 490.9,256.9 492.6,257.1 C494.3,257.3 495.9,257.5 497.6,257.7 C499.3,257.9 501.0,258.1 502.7,258.3 C504.3,258.5 506.0,258.7 507.7,258.9 C509.4,259.1 511.0,259.3 512.7,259.5 C514.4,259.7 516.1,259.9 517.8,260.1 C519.4,260.3 521.1,260.5 522.8,260.6 C524.5,260.8 526.2,261.0 527.8,261.2 C529.5,261.4 531.2,261.6 532.9,261.8 C534.5,261.9 536.2,262.1 537.9,262.3 C539.6,262.5 541.3,262.7 542.9,262.8 C544.6,263.0 546.3,263.2 548.0,263.4 C549.7,263.5 551.3,263.7 553.0,263.9 C554.7,264.1 556.4,264.2 558.0,264.4 C559.7,264.6 561.4,264.7 563.1,264.9 C564.8,265.1 566.4,265.2 568.1,265.4 C569.8,265.6 571.5,265.7 573.2,265.9 C574.8,266.1 576.5,266.2 578.2,266.4 C579.9,266.6 581.5,266.7 583.2,266.9 C584.9,267.0 586.6,267.2 588.3,267.4 C589.9,267.5 591.6,267.7 593.3,267.8 C595.0,268.0 596.6,268.1 598.3,268.3 C600.0,268.4 601.7,268.6 603.4,268.7 C605.0,268.9 606.7,269.0 608.4,269.2 C610.1,269.3 611.8,269.5 613.4,269.6 C615.1,269.8 616.8,269.9 618.5,270.0 C620.1,270.2 621.8,270.3 623.5,270.5 C625.2,270.6 626.9,270.7 628.5,270.9 C630.2,271.0 631.9,271.2 633.6,271.3 C635.3,271.4 636.9,271.6 638.6,271.7 C640.3,271.8 642.0,272.0 643.6,272.1 C645.3,272.2 647.0,272.3 648.7,272.5 C650.4,272.6 652.0,272.7 653.7,272.9 C655.4,273.0 657.1,273.1 658.8,273.2 C660.4,273.4 662.1,273.5 663.8,273.6 C665.5,273.7 667.1,273.8 668.8,274.0 C670.5,274.1 672.2,274.2 673.9,274.3 C675.5,274.4 677.2,274.5 678.9,274.7 C680.6,274.8 682.3,274.9 683.9,275.0 C685.6,275.1 687.3,275.2 689.0,275.3 C690.6,275.4 693.2,275.6 694.0,275.7" fill="none" stroke="#000080" stroke-width="3.7" stroke-linejoin="round" stroke-linecap="butt"/>
<rect x="298.5" y="13.2" width="175.5" height="145.8" fill="none" stroke="#222" stroke-width="1.3"/>
<line x1="314.5" y1="159.0" x2="314.5" y2="162.0" stroke="#222" stroke-width="1"/>
<line x1="330.4" y1="159.0" x2="330.4" y2="161.0" stroke="#222" stroke-width="1"/>
<line x1="346.4" y1="159.0" x2="346.4" y2="162.0" stroke="#222" stroke-width="1"/>
<line x1="362.3" y1="159.0" x2="362.3" y2="161.0" stroke="#222" stroke-width="1"/>
<line x1="378.3" y1="159.0" x2="378.3" y2="162.0" stroke="#222" stroke-width="1"/>
<line x1="394.2" y1="159.0" x2="394.2" y2="161.0" stroke="#222" stroke-width="1"/>
<line x1="410.2" y1="159.0" x2="410.2" y2="162.0" stroke="#222" stroke-width="1"/>
<line x1="426.1" y1="159.0" x2="426.1" y2="161.0" stroke="#222" stroke-width="1"/>
<line x1="442.1" y1="159.0" x2="442.1" y2="162.0" stroke="#222" stroke-width="1"/>
<line x1="458.0" y1="159.0" x2="458.0" y2="161.0" stroke="#222" stroke-width="1"/>
<line x1="474.0" y1="159.0" x2="474.0" y2="162.0" stroke="#222" stroke-width="1"/>
<text x="314.5" y="169" font-family='"Liberation Serif", serif' font-size="6.2" font-weight="bold" text-anchor="middle" fill="#111">300</text>
<text x="346.4" y="169" font-family='"Liberation Serif", serif' font-size="6.2" font-weight="bold" text-anchor="middle" fill="#111">400</text>
<text x="378.3" y="169" font-family='"Liberation Serif", serif' font-size="6.2" font-weight="bold" text-anchor="middle" fill="#111">500</text>
<text x="410.2" y="169" font-family='"Liberation Serif", serif' font-size="6.2" font-weight="bold" text-anchor="middle" fill="#111">600</text>
<text x="442.1" y="169" font-family='"Liberation Serif", serif' font-size="6.2" font-weight="bold" text-anchor="middle" fill="#111">700</text>
<text x="474.0" y="169" font-family='"Liberation Serif", serif' font-size="6.2" font-weight="bold" text-anchor="middle" fill="#111">800</text>
<text x="386.6" y="181.2" font-family='"Liberation Serif", serif' font-size="6.9" font-weight="bold" text-anchor="middle" fill="#000">Wavelength (nm)</text>
<text transform="translate(272.3,82) rotate(-90)" font-family='"Liberation Serif", serif' font-size="7.15" font-weight="bold" text-anchor="middle" fill="#000">Absorbance (a.u.)</text>
<path d="M298.8,146.8 C299.2,146.2 300.5,144.3 301.5,143.0 C302.5,141.7 303.7,140.3 304.8,138.9 C305.9,137.5 307.1,136.2 308.3,134.6 C309.5,132.9 310.6,131.1 311.8,129.0 C313.0,126.9 314.1,124.3 315.4,122.0 C316.7,119.7 318.3,116.9 319.6,114.9 C320.9,112.9 321.9,111.5 323.1,110.0 C324.3,108.5 325.4,107.1 326.6,105.8 C327.8,104.5 328.9,103.2 330.1,102.3 C331.3,101.4 332.4,100.8 333.7,100.4 C335.0,100.0 336.5,100.2 337.9,99.9 C339.3,99.6 340.7,98.6 342.1,98.3 C343.5,98.0 344.9,98.0 346.3,98.0 C347.7,98.0 349.0,98.2 350.6,98.5 C352.2,98.8 354.1,99.7 356.2,100.1 C358.3,100.5 360.8,100.5 363.2,100.8 C365.6,101.1 367.9,101.4 370.3,102.0 C372.7,102.6 374.9,103.5 377.3,104.4 C379.8,105.3 382.6,106.5 385.0,107.6 C387.4,108.7 389.6,109.9 392.0,111.1 C394.4,112.3 396.8,113.4 399.1,114.6 C401.5,115.8 403.8,116.8 406.1,118.2 C408.5,119.6 410.6,121.5 413.2,123.1 C415.8,124.7 419.2,126.8 421.6,128.0 C424.0,129.2 425.2,129.3 427.3,130.1 C429.4,130.9 432.0,131.9 434.3,133.0 C436.6,134.1 439.0,135.2 441.3,136.5 C443.6,137.8 446.0,139.5 448.4,140.7 C450.8,141.9 453.0,142.6 455.4,143.5 C457.8,144.4 460.5,145.5 462.5,146.3 C464.5,147.1 466.2,148.2 467.4,148.5 C468.6,148.8 468.4,148.8 469.5,148.2 C470.6,147.6 473.2,145.7 474.0,145.2" fill="none" stroke="#111" stroke-width="1.5" stroke-linejoin="round"/>
<rect x="438.5" y="14.3" width="33.5" height="8.7" fill="#fff" stroke="#aaa" stroke-width="0.8"/>
<line x1="441" y1="18.8" x2="457" y2="18.8" stroke="#222" stroke-width="1.7"/>
<text x="458.8" y="21" font-family='"Liberation Serif", serif' font-size="6.6" font-weight="bold" fill="#000">NiO</text>
<rect x="43.3" y="2.8" width="651.8" height="484.5" fill="none" stroke="#000" stroke-width="2.3"/>
<line x1="43.3" y1="487.3" x2="43.3" y2="492.8" stroke="#000" stroke-width="2.2" stroke-linecap="round"/>
<line x1="102.6" y1="487.3" x2="102.6" y2="497.3" stroke="#000" stroke-width="2.2" stroke-linecap="round"/>
<line x1="161.8" y1="487.3" x2="161.8" y2="492.8" stroke="#000" stroke-width="2.2" stroke-linecap="round"/>
<line x1="221.1" y1="487.3" x2="221.1" y2="497.3" stroke="#000" stroke-width="2.2" stroke-linecap="round"/>
<line x1="280.3" y1="487.3" x2="280.3" y2="492.8" stroke="#000" stroke-width="2.2" stroke-linecap="round"/>
<line x1="339.6" y1="487.3" x2="339.6" y2="497.3" stroke="#000" stroke-width="2.2" stroke-linecap="round"/>
<line x1="398.8" y1="487.3" x2="398.8" y2="492.8" stroke="#000" stroke-width="2.2" stroke-linecap="round"/>
<line x1="458.1" y1="487.3" x2="458.1" y2="497.3" stroke="#000" stroke-width="2.2" stroke-linecap="round"/>
<line x1="517.3" y1="487.3" x2="517.3" y2="492.8" stroke="#000" stroke-width="2.2" stroke-linecap="round"/>
<line x1="576.6" y1="487.3" x2="576.6" y2="497.3" stroke="#000" stroke-width="2.2" stroke-linecap="round"/>
<line x1="635.8" y1="487.3" x2="635.8" y2="492.8" stroke="#000" stroke-width="2.2" stroke-linecap="round"/>
<line x1="695.1" y1="487.3" x2="695.1" y2="497.3" stroke="#000" stroke-width="2.2" stroke-linecap="round"/>
<text x="102.6" y="517.6" font-family='"Liberation Serif", serif' font-size="18" font-weight="bold" text-anchor="middle">300</text>
<text x="221.1" y="517.6" font-family='"Liberation Serif", serif' font-size="18" font-weight="bold" text-anchor="middle">400</text>
<text x="339.6" y="517.6" font-family='"Liberation Serif", serif' font-size="18" font-weight="bold" text-anchor="middle">500</text>
<text x="458.1" y="517.6" font-family='"Liberation Serif", serif' font-size="18" font-weight="bold" text-anchor="middle">600</text>
<text x="576.6" y="517.6" font-family='"Liberation Serif", serif' font-size="18" font-weight="bold" text-anchor="middle">700</text>
<text x="695.1" y="517.6" font-family='"Liberation Serif", serif' font-size="18" font-weight="bold" text-anchor="middle">800</text>
<text x="369" y="555.4" font-family='"Liberation Serif", serif' font-size="23" font-weight="bold" text-anchor="middle">Wavelength (nm)</text>
<text transform="translate(19.3,260.2) rotate(-90)" font-family='"Liberation Serif", serif' font-size="23.25" font-weight="bold" text-anchor="middle">Absorbance (a.u.)</text>
<rect x="103.5" y="437" width="119.2" height="28.8" fill="none" stroke="#00f" stroke-width="1.4"/>
<line x1="174.9" y1="437" x2="314.9" y2="185.4" stroke="#000" stroke-width="1.8"/>
<path d="M320.2,175.8 L317.6,189.2 L310.2,185.1 Z" fill="#000"/>
<rect x="559.5" y="6.5" width="128" height="188" fill="#fff" stroke="#333" stroke-width="1"/>
<line x1="580.5" y1="29.8" x2="632.5" y2="29.8" stroke="#000" stroke-width="3.8" stroke-linecap="round"/>
<text x="636.8" y="37.7" font-family='"Liberation Serif", serif' font-size="18.6" font-weight="bold">NiO</text>
<line x1="580.5" y1="58.7" x2="632.5" y2="58.7" stroke="#f00" stroke-width="3.8" stroke-linecap="round"/>
<text x="636.8" y="66.6" font-family='"Liberation Serif", serif' font-size="18.6" font-weight="bold">SnO<tspan font-size="11" dy="8.6">2</tspan></text>
<line x1="580.5" y1="94.5" x2="632.5" y2="94.5" stroke="#00f" stroke-width="3.8" stroke-linecap="round"/>
<text x="636.8" y="102.4" font-family='"Liberation Serif", serif' font-size="18.6" font-weight="bold">SN1</text>
<line x1="580.5" y1="123.6" x2="632.5" y2="123.6" stroke="#f0f" stroke-width="3.8" stroke-linecap="round"/>
<text x="636.8" y="131.5" font-family='"Liberation Serif", serif' font-size="18.6" font-weight="bold">SN3</text>
<line x1="580.5" y1="152.2" x2="632.5" y2="152.2" stroke="#008000" stroke-width="3.8" stroke-linecap="round"/>
<text x="636.8" y="160.1" font-family='"Liberation Serif", serif' font-size="18.6" font-weight="bold">SN5</text>
<line x1="580.5" y1="180.8" x2="632.5" y2="180.8" stroke="#000080" stroke-width="3.8" stroke-linecap="round"/>
<text x="636.8" y="188.7" font-family='"Liberation Serif", serif' font-size="18.6" font-weight="bold">SN7</text>
</svg>
</body></html>
